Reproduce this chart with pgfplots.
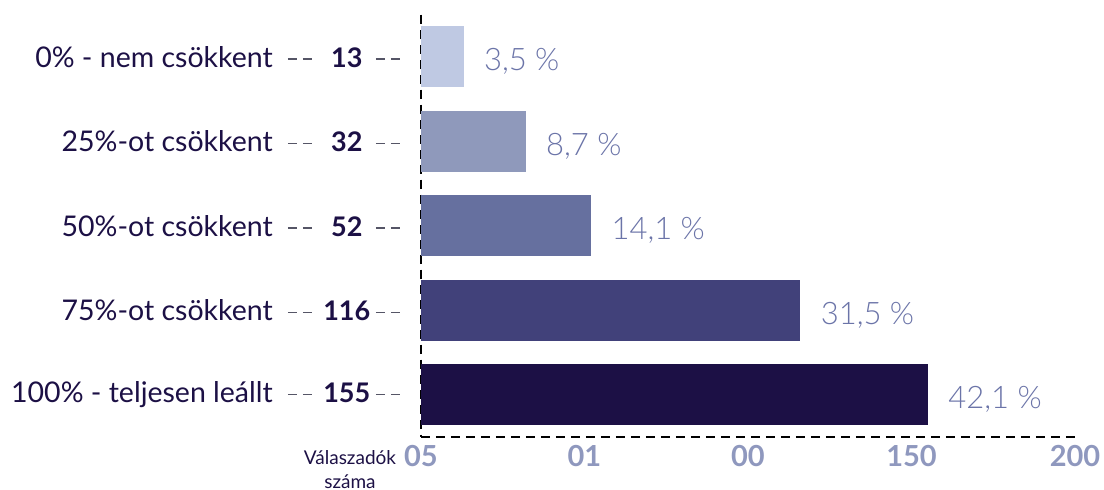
\documentclass[border=0pt]{standalone}
\usepackage{pgfplots}
\pgfplotsset{compat=1.18}
\usepackage{fontspec}
\setmainfont{Lato}
\newfontfamily\lightfont{Lato Light}
\definecolor{c1}{HTML}{BFC9E3}
\definecolor{c2}{HTML}{8F99BB}
\definecolor{c3}{HTML}{66709F}
\definecolor{c4}{HTML}{41417A}
\definecolor{c5}{HTML}{1C1045}
\definecolor{txt}{HTML}{1C1045}
\definecolor{pct}{HTML}{6B74A8}
\definecolor{tickc}{HTML}{8F98BE}
\definecolor{dashc}{HTML}{555566}
\newcommand{\dd}{{\color{dashc}\rule[7.5pt]{9pt}{1.2pt}\hspace{6pt}\rule[7.5pt]{9pt}{1.2pt}}}
\newcommand{\lbl}[2]{#1\hspace{15pt}\dd\makebox[64pt][c]{\hspace{6pt}\fontsize{27}{27}\selectfont\bfseries #2}\dd}
\begin{document}
\begin{tikzpicture}[x=1pt,y=1pt]
\useasboundingbox (-421,-53) rectangle (683,437);
\begin{axis}[at={(0,0)}, anchor=south west, scale only axis,
  width=654pt, height=422.5pt,
  xmin=0, xmax=200, ymin=0.5, ymax=5.5, y dir=reverse,
  xbar, bar width=61pt, bar shift=0pt,
  axis x line=bottom, axis y line=left,
  axis line style={-, dash pattern=on 9pt off 6pt, line width=1.1pt, black},
  xtick={0,50,100,150,200}, xticklabels={05,01,00,150,200},
  xticklabel style={font=\bfseries\fontsize{29}{29}\selectfont, color=tickc, inner sep=0pt, yshift=-8pt, anchor=north},
  ytick={1,2,3,4,5},
  yticklabels={\lbl{0\% - nem csökkent}{13},\lbl{25\%-ot csökkent}{32},\lbl{50\%-ot csökkent}{52},\lbl{75\%-ot csökkent}{116},\lbl{100\% - teljesen leállt}{155}},
  yticklabel style={font=\fontsize{28.5}{28.5}\selectfont, color=txt, inner sep=0pt, anchor=east, xshift=-21pt},
  major tick length=0pt,
  nodes near coords style={font=\lightfont\fontsize{31}{31}\selectfont, color=pct, anchor=west, xshift=17pt, yshift=-5pt},
]
\addplot[fill=c1, draw=none, nodes near coords={3,5 \%}] coordinates {(13,1)};
\addplot[fill=c2, draw=none, nodes near coords={8,7 \%}] coordinates {(32,2)};
\addplot[fill=c3, draw=none, nodes near coords={14,1 \%}] coordinates {(52,3)};
\addplot[fill=c4, draw=none, nodes near coords={31,5 \%}] coordinates {(116,4)};
\addplot[fill=c5, draw=none, nodes near coords={42,1 \%}] coordinates {(155,5)};
\end{axis}
\node[align=center, font=\fontsize{19}{24}\selectfont, color=txt] at (-71,-33) {Válaszadók\\száma};
\end{tikzpicture}
\end{document}
